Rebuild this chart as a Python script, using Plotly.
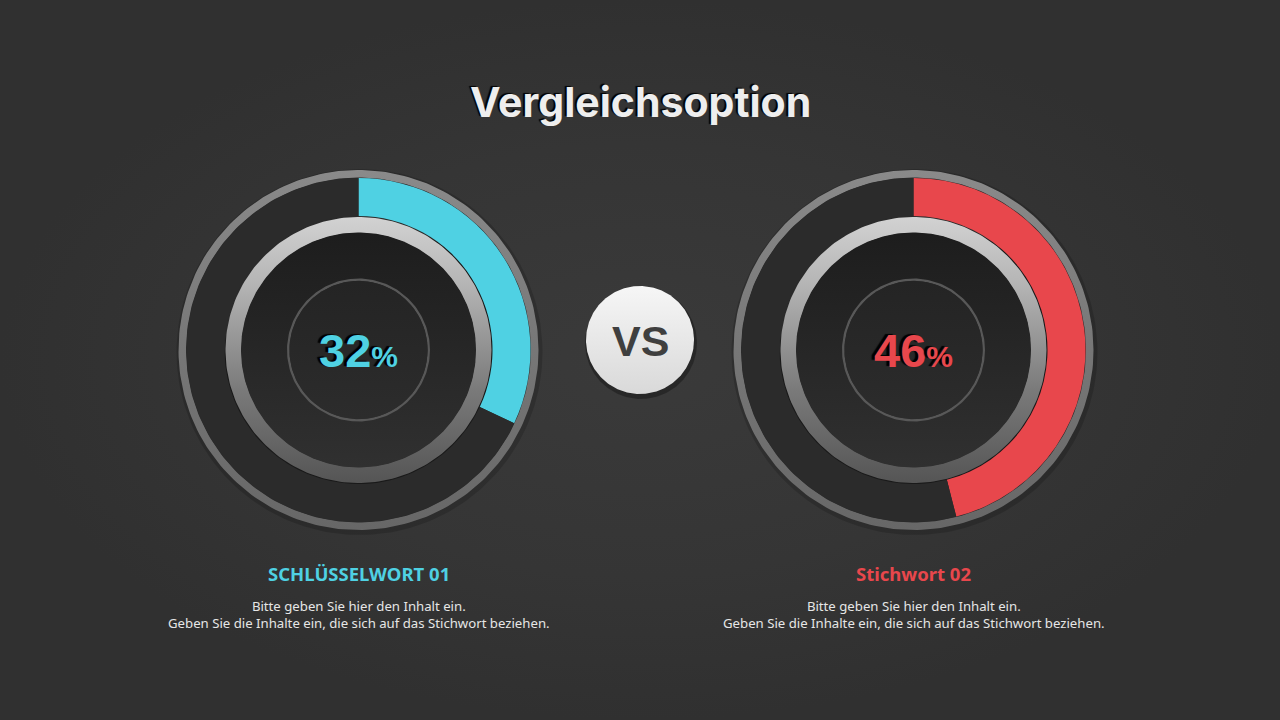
import numpy as np
import plotly.graph_objects as go

# ---- data ----
title_text = "Vergleichsoption"
keywords = ["SCHLÜSSELWORT 01", "Stichwort 02"]
percent_values = [32, 46]
accent_colors = ["#4fd1e3", "#e8474c"]
desc_line1 = ["Bitte geben Sie hier den Inhalt ein.", "Bitte geben Sie hier den Inhalt ein."]
desc_line2 = ["Geben Sie die Inhalte ein, die sich auf das Stichwort beziehen.",
              "Geben Sie die Inhalte ein, die sich auf das Stichwort beziehen."]
vs_text = "VS"

W, H = 1280, 720
centers_x = [358.5, 913.5]
center_y = 350
R_OUT = 172
R_IN = 134


def Y(ys):
    return H - np.asarray(ys, dtype=float)


def ring_xy(cx, cy, r1, r2, n=240):
    t = np.linspace(0, 2 * np.pi, n)
    xo = cx + r2 * np.cos(t)
    yo = cy + r2 * np.sin(t)
    if r1 <= 0:
        return xo, Y(yo)
    xi = cx + r1 * np.cos(t[::-1])
    yi = cy + r1 * np.sin(t[::-1])
    return np.concatenate([xo, xi]), Y(np.concatenate([yo, yi]))


def add_ring(fig, cx, cy, r1, r2, color=None, grad=None, gtype="vertical"):
    x, y = ring_xy(cx, cy, r1, r2)
    kw = dict(x=x, y=y, mode="lines", line=dict(width=0), fill="toself",
              hoverinfo="skip", showlegend=False)
    if grad is not None:
        kw["fillgradient"] = dict(type=gtype, colorscale=grad)
        kw["fillcolor"] = grad[0][1]
    else:
        kw["fillcolor"] = color
    fig.add_trace(go.Scatter(**kw))


fig = go.Figure()

# background radial gradient
fig.add_trace(go.Scatter(x=[0, W, W, 0, 0], y=[0, 0, H, H, 0], mode="lines",
                         line=dict(width=0), fill="toself", hoverinfo="skip", showlegend=False,
                         fillcolor="#343434",
                         fillgradient=dict(type="radial",
                                           colorscale=[[0, "#3a3a3a"], [0.6, "#353535"], [1, "#303030"]])))

# vertical divider
fig.add_shape(type="line", x0=641, x1=641, y0=Y(172), y1=Y(634),
              line=dict(color="#8a8a8a", width=2), layer="below")

for i, cx in enumerate(centers_x):
    cy = center_y
    # outer halo/shadow
    add_ring(fig, cx + 1, cy + 2, 177, 183, color="rgba(0,0,0,0.16)")
    # track base (under pie)
    add_ring(fig, cx, cy, 0, 173, color="#2b2b2b")
    # outer grey ring
    add_ring(fig, cx, cy, 172.5, 180,
             grad=[[0, "#676767"], [0.5, "#777777"], [1, "#8a8a8a"]])
    # shadow of silver bezel
    add_ring(fig, cx + 3, cy + 6, 0, 137, color="rgba(0,0,0,0.4)")
    # silver bezel
    add_ring(fig, cx, cy, 117, 133,
             grad=[[0, "#555555"], [0.35, "#7a7a7a"], [0.75, "#b5b5b5"], [1, "#d2d2d2"]])
    # inner dark disc
    add_ring(fig, cx, cy, 0, 117.5,
             grad=[[0, "#303030"], [1, "#1d1d1d"]])
    # inner circle line
    add_ring(fig, cx, cy, 69, 71.5, color="#585858")
    add_ring(fig, cx, cy, 0, 69.2, grad=[[0, "#2c2c2c"], [1, "#242424"]])

    # progress arc via pie
    v = percent_values[i]
    fig.add_trace(go.Pie(values=[v, 100 - v], sort=False, direction="clockwise", rotation=0,
                         hole=R_IN / R_OUT, textinfo="none", hoverinfo="skip", showlegend=False,
                         marker=dict(colors=[accent_colors[i], "#2b2b2b"], line=dict(width=0)),
                         domain=dict(x=[(cx - R_OUT) / W, (cx + R_OUT) / W],
                                     y=[(H - cy - R_OUT) / H, (H - cy + R_OUT) / H])))

    # centre value
    fig.add_annotation(x=cx, y=H - cy, xref="x", yref="y",
                       text=f"<b>{v}</b><span style='font-size:30px'><b>%</b></span>",
                       showarrow=False, xanchor="center", yanchor="middle",
                       font=dict(family="Liberation Sans", size=47, color=accent_colors[i],
                                 shadow="-3px -1px 1px #000"))
    # keyword
    fig.add_annotation(x=cx, y=H - 573, xref="x", yref="y", text=f"<b>{keywords[i]}</b>",
                       showarrow=False, xanchor="center", yanchor="middle",
                       font=dict(family="Noto Sans", size=18.5, color=accent_colors[i]))
    # description (two lines in one text block)
    fig.add_annotation(x=cx, y=H - 614.5, xref="x", yref="y",
                       text=f"{desc_line1[i]}<br>{desc_line2[i]}",
                       showarrow=False, xanchor="center", yanchor="middle", align="center",
                       font=dict(family="Noto Sans", size=13.2, color="#e6e6e6"))

# VS badge
add_ring(fig, 641, 343, 0, 56, color="rgba(0,0,0,0.3)")
add_ring(fig, 640, 340, 0, 54, grad=[[0, "#d9d9d9"], [1, "#f6f6f6"]])
fig.add_annotation(x=640, y=H - 341, xref="x", yref="y", text=f"<b>{vs_text}</b>",
                   showarrow=False, xanchor="center", yanchor="middle",
                   font=dict(family="Liberation Sans", size=43, color="#3f3f3f"))

# title
fig.add_annotation(x=640, y=H - 102, xref="x", yref="y", text=f"<b>{title_text}</b>",
                   showarrow=False, xanchor="center", yanchor="middle",
                   font=dict(family="Inter", size=41, weight=800, color="#eeeeee",
                             shadow="-2px -1px 1px #000"))

fig.update_layout(width=W, height=H, margin=dict(l=0, r=0, t=0, b=0),
                  paper_bgcolor="#333333", plot_bgcolor="#333333",
                  xaxis=dict(range=[0, W], visible=False, fixedrange=True),
                  yaxis=dict(range=[0, H], visible=False, fixedrange=True),
                  showlegend=False)

fig.write_html("out.html", config=dict(displayModeBar=False),
               post_script="document.body.style.margin='0';document.body.style.background='#333333';")
